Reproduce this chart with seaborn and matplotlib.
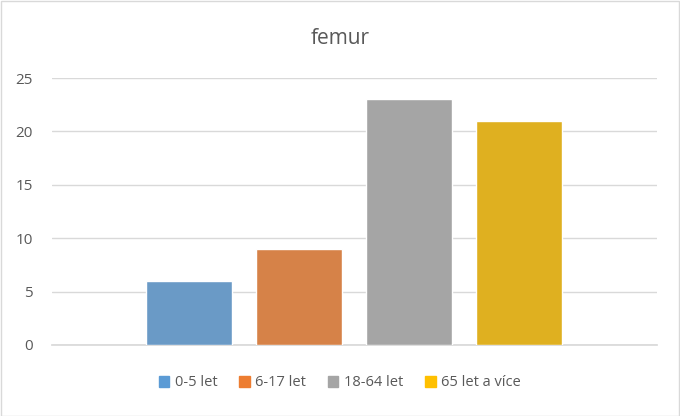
import matplotlib
matplotlib.use("Agg")
import matplotlib.pyplot as plt
import seaborn as sns
import pandas as pd
from matplotlib.patches import Patch, Rectangle

groups = ["0-5 let", "6-17 let", "18-64 let", "65 let a více"]
values = [6, 9, 23, 21]
colors = ["#5b9bd5", "#ed7d31", "#a5a5a5", "#ffc000"]

sns.set_theme(style="white")
plt.rcParams['font.family'] = ['Open Sans', 'DejaVu Sans']

df = pd.DataFrame({"group": groups, "value": values})
fig = plt.figure(figsize=(6.8, 4.16), dpi=100)
ax = fig.add_axes([52/680, 1-345/416, 605/680, 267/416])
sns.barplot(data=df, x="group", y="value", hue="group", palette=colors,
            width=0.78, legend=False, ax=ax, zorder=3)
ax.set_xlim(-1.245, 4.255)
ax.set_ylim(0, 25)
ax.set_yticks([0, 5, 10, 15, 20, 25])
ax.yaxis.grid(True, color="#d9d9d9", linewidth=1, zorder=0)
ax.set_xticks([])
ax.set_xlabel("")
ax.set_ylabel("")
for s in ["top", "right", "left"]:
    ax.spines[s].set_visible(False)
ax.spines["bottom"].set_color("#d9d9d9")
ax.tick_params(axis="y", colors="#595959", labelsize=11, length=0, pad=14)
fig.text(0.5, 1-38/416, "femur", ha="center", va="center", fontsize=15, color="#595959")
handles = [Patch(color=c, label=g) for c, g in zip(colors, groups)]
fig.legend(handles=handles, loc="center", bbox_to_anchor=(0.5, 1-383/416), ncol=4,
           frameon=False, fontsize=10.5, handlelength=0.7, handleheight=0.7,
           columnspacing=1.5, handletextpad=0.4, labelcolor="#595959")
fig.patches.append(Rectangle((0.001, 0.001), 0.997, 0.997, transform=fig.transFigure,
                             fill=False, edgecolor="#d9d9d9", linewidth=1))
fig.savefig("out.png", dpi=100)
